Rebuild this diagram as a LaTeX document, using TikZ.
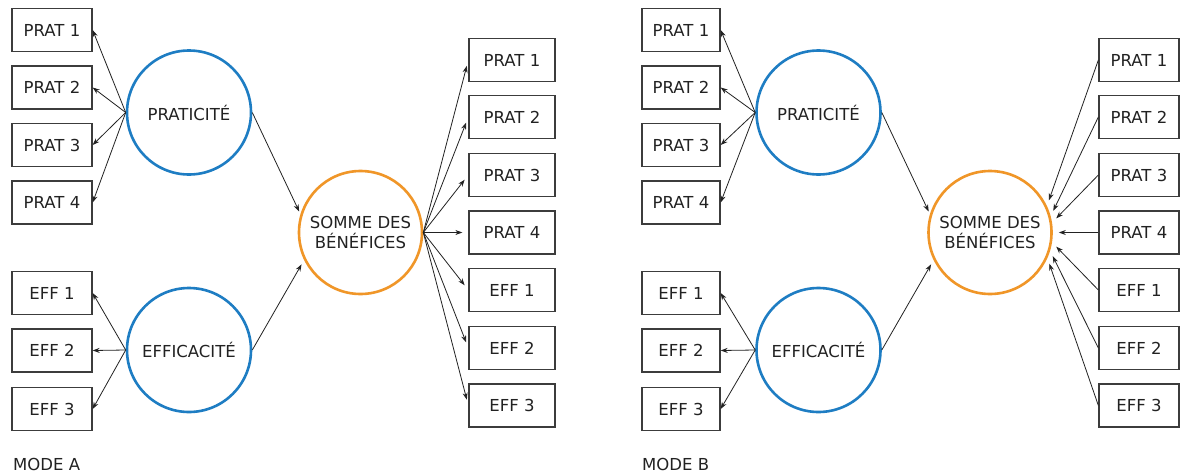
\documentclass[tikz,border=0pt]{standalone}
\usepackage{fontspec}
\setmainfont{DejaVu Sans}
\usetikzlibrary{arrows.meta,calc}
\definecolor{circblue}{RGB}{30,125,195}
\definecolor{circorange}{RGB}{240,150,40}
\definecolor{ink}{RGB}{34,34,34}
\definecolor{boxline}{RGB}{60,60,60}
\tikzset{
  txt/.style={font=\fontsize{16.5}{19.5}\selectfont, text=ink},
  box/.style={txt, draw=boxline, line width=1.3pt, minimum width=80pt, minimum height=43pt, inner sep=0pt},
  rbox/.style={box, minimum width=86pt},
  bluecirc/.style={txt, circle, draw=circblue, line width=2.6pt, minimum size=124pt, inner sep=0pt},
  orangecirc/.style={txt, circle, draw=circorange, line width=2.6pt, minimum size=123pt, inner sep=0pt, align=center},
  arr/.style={draw=ink, line width=0.8pt, -{Stealth[length=7pt,width=5pt]}},
  modelabel/.style={txt, anchor=base west, inner sep=0pt}
}
\begin{document}
\begin{tikzpicture}[x=1pt,y=-1pt]
\useasboundingbox (0,0) rectangle (1180,474);
\fill[white] (0,0) rectangle (1180,474);

% ---------------- MODE A ----------------
\node[box] (aL1) at (52,30) {PRAT 1};
\node[box] (aL2) at (52,87.5) {PRAT 2};
\node[box] (aL3) at (52,145) {PRAT 3};
\node[box] (aL4) at (52,202.5) {PRAT 4};
\node[box] (aE1) at (52,293) {EFF 1};
\node[box] (aE2) at (52,350.5) {EFF 2};
\node[box] (aE3) at (52,409) {EFF 3};

\node[bluecirc] (aPrat) at (189,112.5) {PRATICITÉ};
\node[bluecirc] (aEff) at (189,350) {EFFICACITÉ};
\node[orangecirc] (aSom) at (360.5,232.5) {SOMME DES\\BÉNÉFICES};

\node[rbox] (aR1) at (512,60) {PRAT 1};
\node[rbox] (aR2) at (512,117) {PRAT 2};
\node[rbox] (aR3) at (512,175) {PRAT 3};
\node[rbox] (aR4) at (512,232.5) {PRAT 4};
\node[rbox] (aR5) at (512,290) {EFF 1};
\node[rbox] (aR6) at (512,348) {EFF 2};
\node[rbox] (aR7) at (512,405.5) {EFF 3};

\foreach \b in {aL1,aL2,aL3,aL4} \draw[arr] (aPrat.west) -- (\b.east);
\foreach \b in {aE1,aE2,aE3} \draw[arr] (aEff.west) -- (\b.east);
\draw[arr, shorten >=3pt] (aPrat.east) -- (aSom.163);
\draw[arr, shorten >=5pt] (aEff.east) -- (aSom.206);
\foreach \b in {aR1,aR2,aR3,aR4,aR5,aR6,aR7} \draw[arr, shorten >=6pt] (aSom.east) -- (\b.west);

\node[modelabel] (modeA) at (13,470) {MODE A};

% ---------------- MODE B ----------------
\node[box, minimum width=78pt] (bL1) at (681,30) {PRAT 1};
\node[box, minimum width=78pt] (bL2) at (681,87.5) {PRAT 2};
\node[box, minimum width=78pt] (bL3) at (681,145) {PRAT 3};
\node[box, minimum width=78pt] (bL4) at (681,202.5) {PRAT 4};
\node[box, minimum width=78pt] (bE1) at (681,293) {EFF 1};
\node[box, minimum width=78pt] (bE2) at (681,350.5) {EFF 2};
\node[box, minimum width=78pt] (bE3) at (681,409) {EFF 3};

\node[bluecirc] (bPrat) at (818.5,112.5) {PRATICITÉ};
\node[bluecirc] (bEff) at (818.5,350) {EFFICACITÉ};
\node[orangecirc] (bSom) at (990,232.5) {SOMME DES\\BÉNÉFICES};

\node[box] (bR1) at (1139,60) {PRAT 1};
\node[box] (bR2) at (1139,117) {PRAT 2};
\node[box] (bR3) at (1139,175) {PRAT 3};
\node[box] (bR4) at (1139,232.5) {PRAT 4};
\node[box] (bR5) at (1139,290) {EFF 1};
\node[box] (bR6) at (1139,348) {EFF 2};
\node[box] (bR7) at (1139,405.5) {EFF 3};

\foreach \b in {bL1,bL2,bL3,bL4} \draw[arr] (bPrat.west) -- (\b.east);
\foreach \b in {bE1,bE2,bE3} \draw[arr] (bEff.west) -- (\b.east);
\draw[arr, shorten >=3pt] (bPrat.east) -- (bSom.163);
\draw[arr, shorten >=5pt] (bEff.east) -- (bSom.206);
\foreach \b/\a in {bR1/25,bR2/15,bR3/9,bR4/0,bR5/-9,bR6/-17,bR7/-24}
  \draw[arr, shorten >=6pt] (\b.west) -- (bSom.\a);

\node[modelabel] (modeB) at (642,470) {MODE B};
\end{tikzpicture}
\end{document}
